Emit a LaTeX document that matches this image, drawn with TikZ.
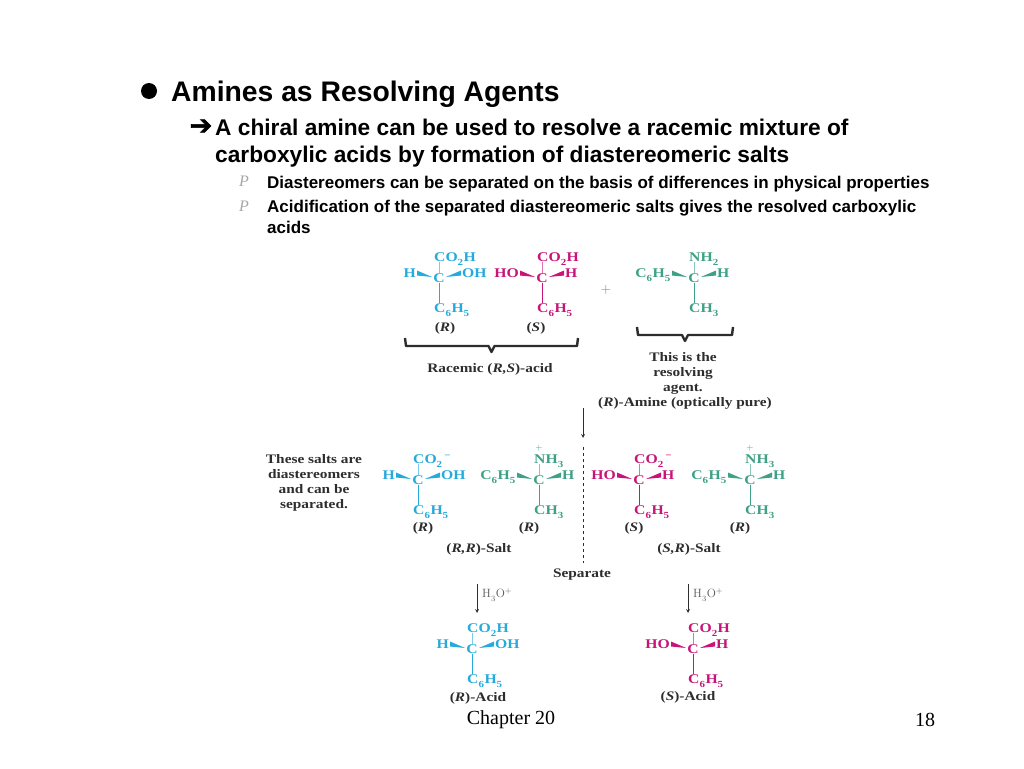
\documentclass[tikz,border=0pt]{standalone}
\usepackage{fontspec}
\setsansfont{Liberation Sans}
\newfontfamily\timesfont{Liberation Serif}
\newfontfamily\chemfont[FakeStretch=1.18]{Liberation Serif}
\newfontfamily\symbfont[FakeBold=2]{DejaVu Sans}
\usetikzlibrary{calc}

\definecolor{acidblue}{RGB}{38,170,220}
\definecolor{acidpink}{RGB}{200,20,120}
\definecolor{aminegreen}{RGB}{62,160,132}
\definecolor{printgray}{RGB}{45,45,45}

\newcommand{\subs}[1]{\textsubscript{\raisebox{-1.5pt}{#1}}}

\tikzset{
  slidetext/.style={anchor=base west, inner sep=0pt, font=\sffamily\bfseries\fontsize{#1}{#1}\selectfont},
  bulletmark/.style={inner sep=0pt, text=gray!70, font=\timesfont\itshape\fontsize{16}{16}\selectfont},
  group/.style={inner sep=0pt, text height=9pt, text depth=0pt, font=\chemfont\bfseries\fontsize{13.3}{13.3}\selectfont},
  caption/.style={inner sep=0pt, align=center, text=printgray, font=\chemfont\bfseries\fontsize{13}{15}\selectfont},
  thinarrow/.style={->, >=stealth, printgray, line width=0.8pt},
  bracket/.style={line width=2.4pt, printgray, line join=round},
  reagent/.style={anchor=west, inner sep=0pt, text=gray!70!black, font=\fontsize{12}{12}\selectfont},
  pagenum/.style={inner sep=0pt, font=\timesfont\fontsize{20}{20}\selectfont, text=black},
}

% Draw one molecule: name, centre, colour, top, left, right and bottom groups.
\newcommand{\molecule}[7]{
  \begin{scope}[shift={(#2)}, color=#3]
    \node[group, text=#3] (#1c) at (0, 0) {C};
    \node[group, text=#3, anchor=west] (#1t) at (-5, -21) {#4};
    \node[group, text=#3, anchor=east] (#1l) at (-23, -5) {#5};
    \node[group, text=#3, anchor=west] (#1r) at (23, -5) {#6};
    \node[group, text=#3, anchor=west] (#1b) at (-5, 30) {#7};
    \draw[line width=0.6pt, opacity=0.6] (#1c.north) -- (#1c.north |- #1t.south);
    \draw[line width=0.8pt] (#1c.south) -- (#1c.south |- #1b.north);
    \fill ($(#1c.west)+(-1, -1)$) -- ($(#1l.east)+(1, -2.5)$) -- ($(#1l.east)+(1, 2.5)$) -- cycle;
    \fill ($(#1c.east)+(1, -1)$) -- ($(#1r.west)+(-1, -2.5)$) -- ($(#1r.west)+(-1, 2.5)$) -- cycle;
  \end{scope}
}

% Draw a square brace between two named coordinates.
\newcommand{\bracepath}[2]{
  \coordinate (#1mid) at ($(#1)!0.5!(#2)$);
  \draw[bracket] (#1) -- ($(#1)+(1, 8)$) -- ($(#1mid)+(-3, 8)$) -- ($(#1mid)+(0, 14)$)
    -- ($(#1mid)+(3, 8)$) -- ($(#2)+(-1, 8)$) -- (#2);
}

\begin{document}
\begin{tikzpicture}[x=1pt, y=-1pt]
\useasboundingbox (0, 0) rectangle (1024, 768);

% Slide text.
\node[circle, fill=black, inner sep=0pt, minimum size=16pt] (dot) at (149, 91) {};
\node[slidetext=28.3] (title) at (171, 101) {Amines as Resolving Agents};
\node[inner sep=0pt, font=\symbfont\fontsize{27}{27}\selectfont] (arrowmark) at (201, 127) {➔};
\node[slidetext=22.7] (lineA) at (215, 135) {A chiral amine can be used to resolve a racemic mixture of};
\node[slidetext=22.7] (lineB) at (215, 162) {carboxylic acids by formation of diastereomeric salts};
\node[bulletmark] (markA) at (244, 181) {P};
\node[slidetext=17] (subA) at (267, 188) {Diastereomers can be separated on the basis of differences in physical properties};
\node[bulletmark] (markB) at (244, 206) {P};
\node[slidetext=17] (subB) at (267, 212) {Acidification of the separated diastereomeric salts gives the resolved carboxylic};
\node[slidetext=17] (subC) at (267, 233) {acids};

% Reactants.
\molecule{ra}{439, 278}{acidblue}{CO\subs{2}H}{H}{OH}{C\subs{6}H\subs{5}}
\molecule{sa}{542, 278}{acidpink}{CO\subs{2}H}{HO}{H}{C\subs{6}H\subs{5}}
\molecule{am}{694, 278}{aminegreen}{NH\subs{2}}{C\subs{6}H\subs{5}}{H}{CH\subs{3}}
\node[caption] (raname) at (445, 328) {(\textit{R})};
\node[caption] (saname) at (536, 328) {(\textit{S})};
\node[inner sep=0pt, text=gray, font=\fontsize{14}{14}\selectfont] (plus) at (606, 290) {+};

% Braces below the reactants.
\coordinate (acidL) at (405, 338);
\coordinate (acidR) at (578, 338);
\coordinate (amineL) at (637, 327);
\coordinate (amineR) at (733, 327);
\bracepath{acidL}{acidR}
\bracepath{amineL}{amineR}
\node[caption] (racemic) at (490, 369) {Racemic (\textit{R,S})-acid};
\node[caption] (agent) at (683, 373) {This is the\\resolving\\agent.};
\node[caption] (amine) at (685, 403) {(\textit{R})-Amine (optically pure)};

% Arrow and dashed line.
\coordinate (downA) at (583, 408);
\coordinate (downB) at (583, 438);
\coordinate (dashA) at (583, 447);
\node[caption] (separate) at (582, 575) {Separate};
\coordinate (dashB) at ($(separate.north -| dashA)+(0, -6)$);
\draw[thinarrow] (downA) -- (downB);
\draw[dashed, printgray, line width=0.6pt] (dashA) -- (dashB);

% Salts.
\node[caption] (note) at (314, 483) {These salts are\\diastereomers\\and can be\\separated.};
\molecule{sb}{418, 480}{acidblue}{CO\subs{2}\textsuperscript{\,−}}{H}{OH}{C\subs{6}H\subs{5}}
\molecule{sg}{539, 480}{aminegreen}{NH\subs{3}}{C\subs{6}H\subs{5}}{H}{CH\subs{3}}
\molecule{sp}{639, 480}{acidpink}{CO\subs{2}\textsuperscript{\,−}}{HO}{H}{C\subs{6}H\subs{5}}
\molecule{sh}{750, 480}{aminegreen}{NH\subs{3}}{C\subs{6}H\subs{5}}{H}{CH\subs{3}}
\node[inner sep=0pt, text=aminegreen, font=\fontsize{9}{9}\selectfont] (plusA) at (539, 448) {+};
\node[inner sep=0pt, text=aminegreen, font=\fontsize{9}{9}\selectfont] (plusB) at (750, 448) {+};
\node[caption] (sbname) at (423, 528) {(\textit{R})};
\node[caption] (sgname) at (529, 528) {(\textit{R})};
\node[caption] (spname) at (634, 528) {(\textit{S})};
\node[caption] (shname) at (740, 528) {(\textit{R})};
\node[caption] (saltA) at (479, 549) {(\textit{R,R})-Salt};
\node[caption] (saltB) at (689, 549) {(\textit{S,R})-Salt};

% Acidification arrows.
\coordinate (leftA) at (477, 584);
\coordinate (leftB) at (477, 613);
\coordinate (rightA) at (688, 584);
\coordinate (rightB) at (688, 613);
\draw[thinarrow] (leftA) -- (leftB);
\draw[thinarrow] (rightA) -- (rightB);
\node[reagent] (acidA) at (482, 595) {H\subs{3}O\textsuperscript{+}};
\node[reagent] (acidB) at (693, 595) {H\subs{3}O\textsuperscript{+}};

% Resolved acids.
\molecule{ea}{472, 649}{acidblue}{CO\subs{2}H}{H}{OH}{C\subs{6}H\subs{5}}
\molecule{eb}{693, 649}{acidpink}{CO\subs{2}H}{HO}{H}{C\subs{6}H\subs{5}}
\node[caption] (eaname) at (478, 698) {(\textit{R})-Acid};
\node[caption] (ebname) at (688, 697) {(\textit{S})-Acid};

% Footer.
\node[pagenum] (chapter) at (511, 720) {Chapter 20};
\node[pagenum] (page) at (925, 720) {18};

\end{tikzpicture}
\end{document}
